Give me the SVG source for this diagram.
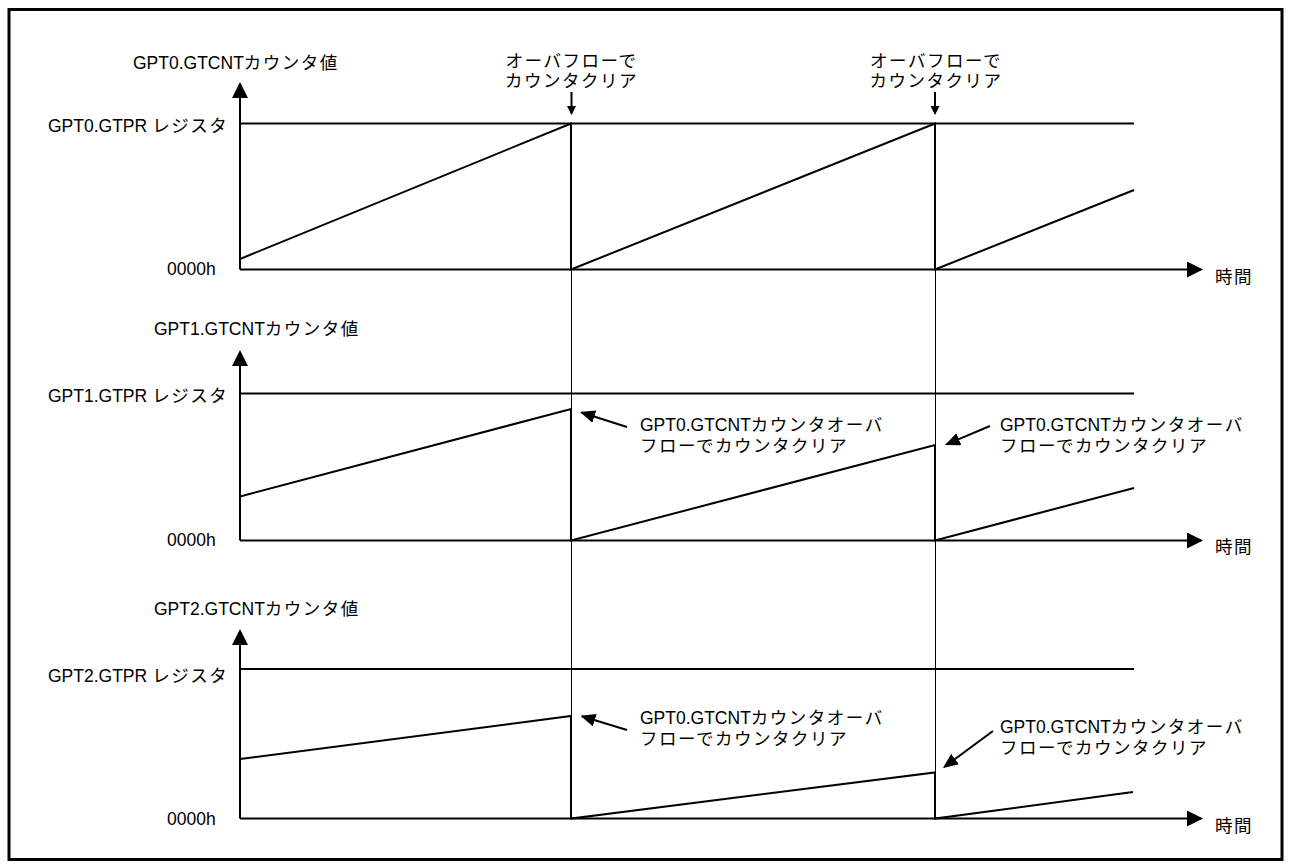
<svg xmlns="http://www.w3.org/2000/svg" width="1290" height="868" viewBox="0 0 1290 868">
<style>
text{font-family:"Liberation Sans","Noto Sans CJK JP",sans-serif;font-size:17.5px;fill:#000}
.j{letter-spacing:1.5px}
.ln{stroke:#000;stroke-width:2;fill:none}
.thin{stroke:#000;stroke-width:1;fill:none}
.frame{stroke:#000;stroke-width:3;fill:none}
</style>
<defs>
<marker id="ax" markerUnits="userSpaceOnUse" markerWidth="16" markerHeight="16" refX="14" refY="8" orient="auto" viewBox="0 0 16 16"><path d="M0,0 L16,8 L0,16 z" fill="#000"/></marker>
<marker id="co" markerUnits="userSpaceOnUse" markerWidth="15" markerHeight="13" refX="13.5" refY="6.5" orient="auto" viewBox="0 0 15 13"><path d="M0,0 L15,6.5 L0,13 z" fill="#000"/></marker>
<marker id="dn" markerUnits="userSpaceOnUse" markerWidth="9" markerHeight="9" refX="7.5" refY="4.5" orient="auto" viewBox="0 0 9 9"><path d="M0,0 L9,4.5 L0,9 z" fill="#000"/></marker>
</defs>
<rect class="frame" x="9" y="9.5" width="1273" height="850"/>

<g id="guides">
<line class="thin" x1="571.5" y1="269.5" x2="571.5" y2="818.5"/>
<line class="thin" x1="935.5" y1="269.5" x2="935.5" y2="818.5"/>
</g>

<g id="panel-gpt0">
<text x="133" y="69">GPT0.GTCNT<tspan class="j">カウンタ値</tspan></text>
<text x="48" y="131.5">GPT0.GTPR<tspan class="j" dx="5">レジスタ</tspan></text>
<text x="167" y="275">0000h</text>
<text class="j" x="1215" y="282.5">時間</text>
<line class="ln" x1="240" y1="123.5" x2="1134" y2="123.5"/>
<polyline class="ln" points="240,259 571,123.5 571,269.5 935,123.5 935,269.5 1134,190"/>
</g>

<g id="panel-gpt1">
<text x="154" y="335">GPT1.GTCNT<tspan class="j">カウンタ値</tspan></text>
<text x="48" y="402">GPT1.GTPR<tspan class="j" dx="5">レジスタ</tspan></text>
<text x="167" y="545.5">0000h</text>
<text class="j" x="1215" y="553">時間</text>
<line class="ln" x1="240" y1="393.5" x2="1134" y2="393.5"/>
<polyline class="ln" points="240,496.5 571,409 571,540.5 935,445 935,540.5 1134,488"/>
<text x="640" y="431">GPT0.GTCNT<tspan class="j">カウンタオーバ</tspan></text>
<text class="j" x="640" y="452">フローでカウンタクリア</text>
<text x="1000" y="431">GPT0.GTCNT<tspan class="j">カウンタオーバ</tspan></text>
<text class="j" x="1000" y="452">フローでカウンタクリア</text>
</g>

<g id="panel-gpt2">
<text x="154" y="615">GPT2.GTCNT<tspan class="j">カウンタ値</tspan></text>
<text x="48" y="682">GPT2.GTPR<tspan class="j" dx="5">レジスタ</tspan></text>
<text x="167" y="825">0000h</text>
<text class="j" x="1215" y="831.5">時間</text>
<line class="ln" x1="240" y1="669" x2="1134" y2="669"/>
<polyline class="ln" points="240,759 571,716 571,818.5 935,772.5 935,818.5 1133,792"/>
<text x="640" y="724">GPT0.GTCNT<tspan class="j">カウンタオーバ</tspan></text>
<text class="j" x="640" y="744.5">フローでカウンタクリア</text>
<text x="1000" y="733">GPT0.GTCNT<tspan class="j">カウンタオーバ</tspan></text>
<text class="j" x="1000" y="753.5">フローでカウンタクリア</text>
</g>

<g id="overflow-notes">
<text class="j" x="571.5" y="67" text-anchor="middle">オーバフローで</text>
<text class="j" x="571.5" y="87" text-anchor="middle">カウンタクリア</text>
<text class="j" x="936" y="67" text-anchor="middle">オーバフローで</text>
<text class="j" x="936" y="87" text-anchor="middle">カウンタクリア</text>
</g>

<g id="connectors">
<line class="ln" x1="240" y1="269.5" x2="240" y2="84" marker-end="url(#ax)"/>
<line class="ln" x1="240" y1="269.5" x2="1201" y2="269.5" marker-end="url(#ax)"/>
<line class="ln" x1="240" y1="540.5" x2="240" y2="352" marker-end="url(#ax)"/>
<line class="ln" x1="240" y1="540.5" x2="1201" y2="540.5" marker-end="url(#ax)"/>
<line class="ln" x1="240" y1="818.5" x2="240" y2="631" marker-end="url(#ax)"/>
<line class="ln" x1="240" y1="818.5" x2="1201" y2="818.5" marker-end="url(#ax)"/>
<line class="ln" x1="571.5" y1="92" x2="571.5" y2="113.5" marker-end="url(#dn)"/>
<line class="ln" x1="935" y1="92" x2="935" y2="113.5" marker-end="url(#dn)"/>
<line class="ln" x1="627" y1="427" x2="581.5" y2="412.5" marker-end="url(#co)"/>
<line class="ln" x1="990" y1="426" x2="946.4" y2="444.4" marker-end="url(#co)"/>
<line class="ln" x1="627" y1="730" x2="581.9" y2="716.2" marker-end="url(#co)"/>
<line class="ln" x1="993" y1="731" x2="944.2" y2="767" marker-end="url(#co)"/>
</g>
</svg>
